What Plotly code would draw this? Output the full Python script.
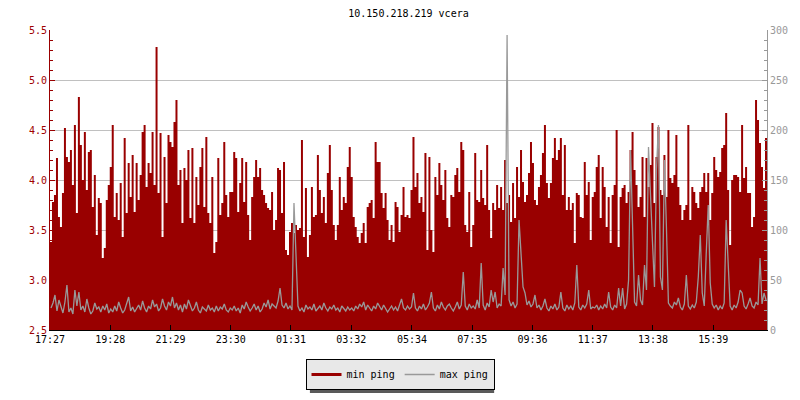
import plotly.graph_objects as go

# ---------------- data ----------------
title_text = "10.150.218.219 vcera"
start_time = "17:27"
step_minutes = 4
span_minutes = 1440
tick_labels = ["17:27", "19:28", "21:29", "23:30", "01:31", "03:32",
               "05:34", "07:35", "09:36", "11:37", "13:38", "15:39"]
series_names = ["min ping", "max ping"]

min_ping = [
    # 17:27 - 19:28
    3.38, 3.78, 3.85, 4.22, 3.63, 3.53, 3.87, 4.52, 4.23, 4.18, 4.30, 3.95, 4.55, 3.67, 4.83,
    4.35, 4.00, 4.48, 3.90, 4.28, 4.30, 3.73, 4.05, 3.45, 3.82, 3.77, 3.22, 3.32, 3.80, 3.95,
    # 19:28 - 21:29
    4.13, 4.55, 3.63, 3.87, 3.60, 3.97, 3.43, 4.42, 3.67, 4.17, 3.83, 4.25, 3.68, 4.17, 3.80,
    4.05, 4.48, 4.55, 3.93, 4.17, 4.07, 4.48, 3.95, 5.33, 3.87, 4.47, 3.43, 4.23, 3.77, 4.45,
    # 21:29 - 23:30
    4.38, 4.33, 4.58, 4.80, 3.95, 4.10, 3.57, 4.12, 4.00, 4.30, 3.62, 4.32, 3.57, 4.03, 3.75,
    4.13, 4.32, 3.73, 4.43, 3.67, 3.57, 4.03, 3.27, 3.38, 4.22, 3.65, 3.77, 4.38, 3.85, 3.63, 3.88,
    # 23:30 - 01:31
    3.88, 4.28, 4.22, 3.68, 3.97, 4.22, 3.78, 4.18, 3.65, 3.40, 3.83, 4.03, 4.20, 4.03, 4.12,
    3.90, 3.85, 3.77, 3.72, 3.70, 3.88, 3.50, 3.60, 4.12, 4.10, 3.67, 4.18, 3.30, 3.25, 3.48,
    # 01:31 - 03:32
    3.57, 3.47, 3.55, 3.50, 3.52, 4.40, 3.43, 3.92, 3.23, 3.45, 3.93, 3.63, 3.65, 4.25, 3.90,
    3.67, 3.83, 3.57, 4.07, 4.35, 3.90, 3.55, 3.40, 3.55, 4.03, 3.70, 3.83, 3.77, 4.13, 4.33,
    # 03:32 - 05:34
    4.03, 3.63, 3.53, 3.43, 3.37, 3.47, 3.57, 3.37, 3.73, 3.77, 3.80, 3.62, 4.38, 4.18, 4.18,
    3.87, 3.72, 3.87, 3.60, 3.40, 3.55, 3.38, 3.78, 3.73, 3.48, 3.65, 3.93, 3.63, 3.65, 3.62, 3.90,
    # 05:34 - 07:35
    4.43, 3.93, 4.07, 3.77, 3.83, 3.68, 4.27, 3.30, 4.23, 3.50, 3.28, 4.03, 3.85, 4.17, 3.95,
    3.80, 4.10, 3.62, 3.53, 3.85, 3.83, 4.05, 4.12, 3.88, 4.38, 4.30, 3.55, 3.48, 3.88, 3.33,
    # 07:35 - 09:36
    3.55, 4.27, 3.80, 3.78, 4.10, 3.82, 3.75, 4.35, 3.70, 3.42, 3.77, 3.70, 3.95, 3.72, 3.93,
    3.70, 4.20, 3.77, 3.85, 3.58, 3.97, 3.62, 4.13, 3.83, 4.30, 3.98, 3.78, 3.85, 4.07, 4.38,
    # 09:36 - 11:37
    4.17, 3.80, 3.75, 3.93, 4.05, 4.27, 4.55, 3.97, 3.82, 3.97, 4.22, 4.42, 4.20, 4.30, 4.42,
    3.85, 4.35, 3.70, 3.83, 3.70, 3.77, 3.37, 3.87, 3.85, 3.63, 3.62, 4.18, 3.85, 3.98, 3.40, 3.83,
    # 11:37 - 13:38
    3.88, 4.13, 4.25, 3.62, 4.13, 3.93, 3.53, 3.83, 3.37, 3.85, 3.95, 4.50, 3.33, 3.83, 3.92,
    3.95, 3.77, 3.88, 4.30, 4.48, 4.10, 3.95, 3.73, 3.83, 4.23, 3.63, 4.22, 3.93, 4.15, 4.57,
    # 13:38 - 15:39
    3.77, 4.23, 4.53, 3.90, 3.85, 4.25, 3.83, 4.50, 4.02, 3.97, 4.05, 4.45, 3.93, 3.75, 3.60,
    3.70, 3.75, 4.55, 3.60, 3.93, 3.88, 3.77, 3.72, 3.88, 3.93, 4.07, 3.88, 4.07, 3.60, 3.87,
    # 15:39 - 17:27
    4.23, 4.10, 4.03, 4.08, 4.32, 4.35, 4.67, 3.90, 3.35, 4.00, 4.05, 4.05, 4.03, 3.88, 4.55,
    4.02, 4.13, 3.87, 3.87, 3.53, 3.63, 4.80, 4.60, 4.37, 4.13, 3.92, 4.42,
]

max_ping = [
    # 17:27 - 19:28
    22, 27, 35, 19, 30, 24, 17, 28, 45, 18, 22, 16, 40, 24, 38,
    20, 24, 18, 31, 22, 16, 19, 27, 21, 23, 18, 24, 20, 26, 17,
    # 19:28 - 21:29
    21, 18, 24, 19, 28, 22, 17, 20, 26, 33, 19, 23, 18, 21, 25,
    20, 29, 22, 18, 24, 21, 30, 23, 26, 19, 22, 31, 24, 20, 28,
    # 21:29 - 23:30
    24, 33, 22, 27, 20, 25, 18, 26, 21, 30, 24, 19, 22, 28, 20,
    17, 23, 21, 19, 25, 20, 22, 18, 24, 19, 23, 21, 26, 20, 18, 22,
    # 23:30 - 01:31
    20, 24, 19, 22, 17, 25, 21, 28, 23, 19, 22, 26, 20, 24, 18,
    21, 27, 23, 30, 21, 26, 24, 22, 29, 42, 25, 22, 27, 21, 24,
    # 01:31 - 03:32
    20, 127, 72, 24, 19, 22, 18, 25, 21, 23, 20, 26, 19, 22, 24,
    20, 27, 22, 19, 23, 21, 25, 20, 22, 18, 24, 21, 19, 23, 20,
    # 03:32 - 05:34
    22, 19, 24, 21, 26, 23, 28, 20, 25, 22, 19, 24, 21, 27, 23,
    20, 25, 22, 18, 21, 24, 20, 23, 19, 26, 31, 22, 20, 24, 21, 23,
    # 05:34 - 07:35
    37, 22, 19, 24, 21, 26, 20, 23, 27, 38, 22, 19, 25, 21, 28,
    23, 20, 24, 26, 22, 19, 23, 28, 21, 25, 58, 24, 20, 26, 22,
    # 07:35 - 09:36
    24, 21, 30, 22, 67, 25, 20, 27, 23, 40, 28, 38, 22, 26, 24,
    62, 35, 295, 30, 24, 28, 22, 26, 110, 77, 43, 37, 25, 29, 23,
    # 09:36 - 11:37
    26, 35, 22, 25, 20, 24, 31, 22, 19, 24, 21, 26, 20, 23, 38,
    22, 19, 25, 21, 24, 20, 27, 65, 23, 20, 25, 22, 26, 40, 21, 23,
    # 11:37 - 13:38
    22, 25, 20, 24, 21, 26, 22, 38, 23, 20, 25, 22, 42, 24, 42,
    21, 26, 50, 180, 105, 28, 24, 55, 30, 25, 65, 40, 183, 125, 88,
    # 13:38 - 15:39
    43, 160, 205, 53, 40, 170, 103, 27, 24, 22, 28, 25, 32, 23, 20,
    26, 55, 24, 21, 25, 22, 28, 53, 95, 37, 24, 77, 125, 47, 26,
    # 15:39 - 17:27
    22, 25, 20, 24, 21, 27, 110, 65, 24, 20, 25, 22, 28, 40, 37,
    24, 21, 26, 32, 24, 22, 28, 25, 72, 26, 37, 30,
]

# ---------------- derived ----------------
def to_minutes(s):
    h, m = s.split(":")
    return int(h) * 60 + int(m)

t0 = to_minutes(start_time)
tick_vals = [(to_minutes(t) - t0) % span_minutes for t in tick_labels]
x_red = [i * step_minutes for i in range(len(min_ping))] + [span_minutes]
y_min = min_ping + [min_ping[-1]]
x_gray = [i * step_minutes + step_minutes / 2 for i in range(len(max_ping))]

# ---------------- style ----------------
MONO = "DejaVu Sans Mono"
RED = "#990000"
RED_TXT = "#a00000"
GRAY = "#999999"
GRID = "#c0c0c0"
W, H = 800, 400
ML, MR, MT, MB = 50, 30, 30, 70
PW, PH = W - ML - MR, H - MT - MB

def px_x(p):
    return (p - ML) / PW

def px_y(p):
    return (H - MB - p) / PH

fig = go.Figure()
fig.add_trace(go.Scatter(
    x=x_red, y=y_min, name=series_names[0], mode="lines",
    line=dict(color=RED, width=0, shape="hv"),
    fill="tozeroy", fillcolor=RED, yaxis="y", hoverinfo="skip",
    showlegend=False, legendgroup="min",
))
# legend entry for the filled series (drawn as a short thick line like the original)
fig.add_trace(go.Scatter(
    x=[None], y=[None], name=series_names[0], mode="lines",
    line=dict(color=RED, width=3), legendgroup="min", hoverinfo="skip",
))
fig.add_trace(go.Scatter(
    x=x_gray, y=max_ping, name=series_names[1], mode="lines",
    line=dict(color=GRAY, width=1.3, shape="linear"),
    yaxis="y2", hoverinfo="skip",
))

# legend shadow
leg_left, leg_right, leg_top, leg_bottom = 307, 492, 359, 389
fig.add_shape(type="rect", xref="paper", yref="paper",
              x0=px_x(leg_left + 4), x1=px_x(leg_right + 4),
              y0=px_y(leg_top + 4), y1=px_y(leg_bottom + 4),
              fillcolor="#5a5a5a", line=dict(width=0), layer="above")

fig.update_layout(
    width=W, height=H,
    margin=dict(l=ML, r=MR, t=MT, b=MB, pad=0),
    paper_bgcolor="white", plot_bgcolor="white",
    font=dict(family=MONO, size=10, color="black"),
    title=dict(text=title_text, x=0.5, xref="paper", xanchor="center",
               y=1 - 13 / H, yref="container", yanchor="middle",
               font=dict(family=MONO, size=10, color="black")),
    showlegend=True,
    hovermode=False,
    legend=dict(orientation="h", xref="container", x=0.5, xanchor="center",
                yref="container", y=1 - leg_top / H, yanchor="top",
                bgcolor="#e8e8e8", bordercolor="black", borderwidth=1,
                font=dict(family=MONO, size=10, color="black"),
                itemwidth=30, traceorder="normal"),
    xaxis=dict(range=[0, span_minutes], tickmode="array", tickvals=tick_vals,
               ticktext=tick_labels, ticks="inside", ticklen=5, tickcolor="black",
               showline=True, linecolor="black", linewidth=1,
               showgrid=False, zeroline=False,
               tickfont=dict(family=MONO, size=10, color="black")),
    yaxis=dict(range=[2.5, 5.5], tick0=2.5, dtick=0.5, tickformat=".1f",
               ticks="inside", ticklen=5, tickcolor=RED,
               showline=True, linecolor=RED, linewidth=1,
               showgrid=True, gridcolor=GRID, gridwidth=1, zeroline=False,
               minor=dict(dtick=0.1, tick0=2.5, ticks="inside", ticklen=3,
                          tickcolor=RED, showgrid=False),
               tickfont=dict(family=MONO, size=10, color=RED_TXT)),
    yaxis2=dict(range=[0, 300], tick0=0, dtick=50,
                overlaying="y", side="right", anchor="x",
                ticks="inside", ticklen=5, tickcolor=GRAY,
                showline=True, linecolor=GRAY, linewidth=1,
                showgrid=False, zeroline=False,
                minor=dict(dtick=10, tick0=0, ticks="inside", ticklen=3,
                           tickcolor=GRAY, showgrid=False),
                tickfont=dict(family=MONO, size=10, color=GRAY)),
)

fig.write_html("out.html", config={"displayModeBar": False},
               post_script="document.body.style.margin='0px';")
